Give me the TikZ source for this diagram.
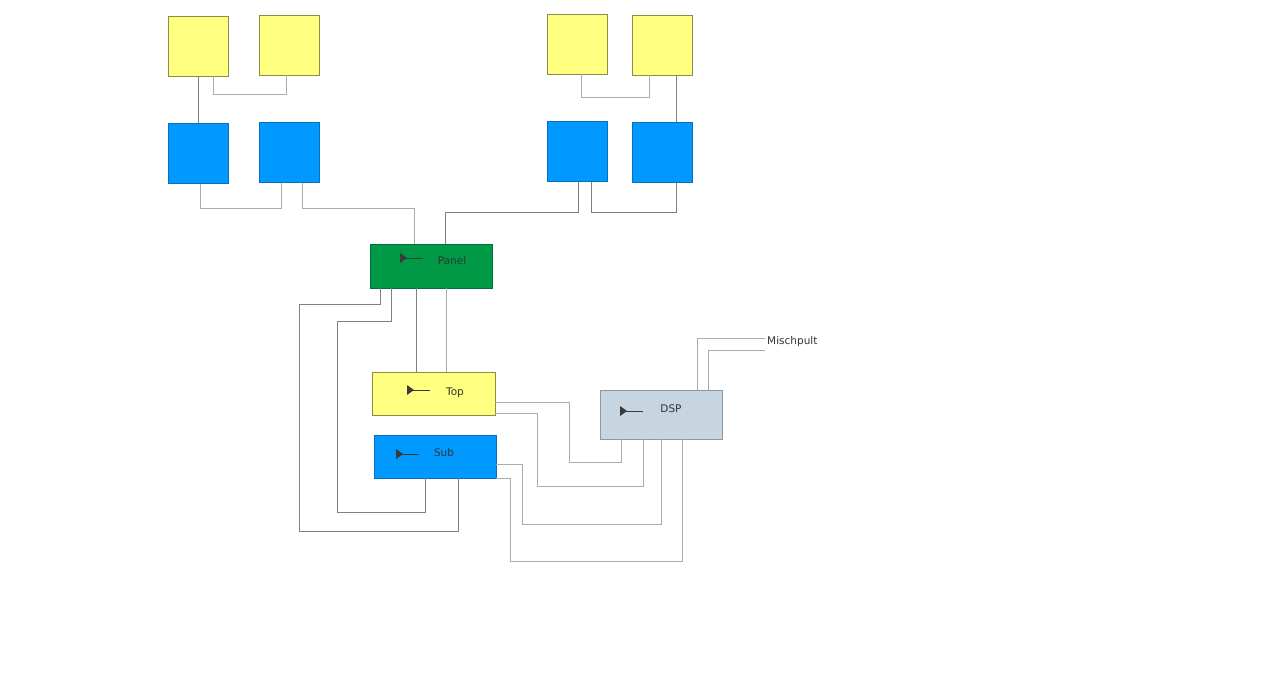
\documentclass[tikz,border=0pt]{standalone}
\usepackage{fontspec}
\setmainfont{DejaVu Sans}

\definecolor{boxyellow}{HTML}{FFFF80}
\definecolor{lineyellow}{HTML}{8C8C46}
\definecolor{boxblue}{HTML}{0099FF}
\definecolor{lineblue}{HTML}{0A6FB4}
\definecolor{boxgreen}{HTML}{009A47}
\definecolor{linegreen}{HTML}{00703A}
\definecolor{boxdsp}{HTML}{C6D5E0}
\definecolor{linedsp}{HTML}{8A98A4}
\definecolor{wirelight}{HTML}{ABABAB}
\definecolor{wiredark}{HTML}{808080}
\definecolor{icongray}{HTML}{3A3A3A}
\definecolor{textgray}{HTML}{333333}

\begin{document}
\begin{tikzpicture}[x=1pt,y=-1pt]
    \tikzset{
        % speakers and amps
        speaker/.style={draw=lineyellow,fill=boxyellow,minimum width=60pt,minimum height=60pt,inner sep=0pt},
        amp/.style={draw=lineblue,fill=boxblue,minimum width=60pt,minimum height=60pt,inner sep=0pt},
        devfont/.style={text=textgray,font=\fontsize{10.5}{12}\selectfont},
        wire/.style={draw=wirelight,line width=1pt},
        wiredk/.style={draw=wiredark,line width=0.9pt},
        icon/.pic={
            \fill[icongray] (0,-5) -- (7,0) -- (0,5) -- cycle;
            \draw[icongray,line width=0.4pt] (5,0) -- (23,0);
        }
    }
    \useasboundingbox (0,0) rectangle (1280,679);

    \node[speaker] (Y1) at (198.5,46) {};
    \node[speaker] (Y2) at (289.5,45) {};
    \node[speaker] (Y3) at (577,44) {};
    \node[speaker] (Y4) at (662,45) {};
    \node[amp] (B1) at (198.5,153.5) {};
    \node[amp] (B2) at (289.5,152.5) {};
    \node[amp] (B3) at (577,151.5) {};
    \node[amp] (B4) at (662,152.5) {};

    \node[draw=linegreen,fill=boxgreen,minimum width=122pt,minimum height=44pt,inner sep=0pt,
        label={[devfont,shift={(21,-5)}]center:Panel}] (P) at (431,266) {};
    \node[draw=lineyellow,fill=boxyellow,minimum width=123pt,minimum height=43pt,inner sep=0pt,
        label={[devfont,shift={(21.5,-0.5)}]center:Top}] (T) at (433.5,393.5) {};
    \node[draw=lineblue,fill=boxblue,minimum width=122pt,minimum height=43pt,inner sep=0pt,
        label={[devfont,shift={(9,-3.5)}]center:Sub}] (S) at (435,456.5) {};
    \node[draw=linedsp,fill=boxdsp,minimum width=122pt,minimum height=49pt,inner sep=0pt,
        label={[devfont,shift={(10,-5.5)}]center:DSP}] (D) at (661,414.5) {};
    \node[devfont,anchor=west,inner sep=2pt] (M) at (765,342) {Mischpult};

    \pic at ([shift={(-31,-8)}]P) {icon};
    \pic at ([shift={(-26.5,-3.5)}]T) {icon};
    \pic at ([shift={(-39,-2.5)}]S) {icon};
    \pic at ([shift={(-41,-3.5)}]D) {icon};

    % upper cabling
    \draw[wiredk] (Y1.south) -- (B1.north);
    \draw[wire] ([xshift=14.5pt]Y1.south) -- ++(0,18) -| ([xshift=-3.5pt]Y2.south);
    \draw[wire] ([xshift=1.5pt]B1.south) -- ++(0,25) -| ([xshift=-8.5pt]B2.south);
    \draw[wire] ([xshift=12.5pt]B2.south) -- ++(0,26) -| ([xshift=-17pt]P.north);
    \draw[wiredk] ([xshift=14pt]P.north) -- ++(0,-31) -| ([xshift=1pt]B3.south);
    \draw[wiredk] ([xshift=14pt]B3.south) -- ++(0,31) -| ([xshift=14pt]B4.south);
    \draw[wire] ([xshift=4pt]Y3.south) -- ++(0,23) -| ([xshift=-13pt]Y4.south);
    \draw[wiredk] ([xshift=14pt]Y4.south) -- ([xshift=14pt]B4.north);

    % panel to top and sub
    \draw[wiredk] ([xshift=-51pt]P.south) |- ++(-81,16) -- ++(0,227) -| ([xshift=23pt]S.south);
    \draw[wiredk] ([xshift=-40pt]P.south) |- ++(-54,33) -- ++(0,191) -| ([xshift=-10pt]S.south);
    \draw[wiredk] ([xshift=-15pt]P.south) -- ([xshift=-17.5pt]T.north);
    \draw[wire] ([xshift=15pt]P.south) -- ([xshift=12.5pt]T.north);

    % top and sub to dsp
    \draw[wire] ([yshift=-8.5pt]T.east) -| ++(74,60) -| ([xshift=-40pt]D.south);
    \draw[wire] ([yshift=-19.5pt]T.east) -| ++(42,73) -| ([xshift=-18pt]D.south);
    \draw[wire] ([yshift=-7.5pt]S.east) -| ++(26,60) -| (D.south);
    \draw[wire] (S.south east) -| ++(14,83) -| ([xshift=21pt]D.south);

    % dsp to mixer
    \draw[wire] ([xshift=36pt]D.north) |- ([yshift=4pt]M.west);
    \draw[wire] ([xshift=47pt]D.north) |- ([yshift=-8pt]M.west);
\end{tikzpicture}
\end{document}
